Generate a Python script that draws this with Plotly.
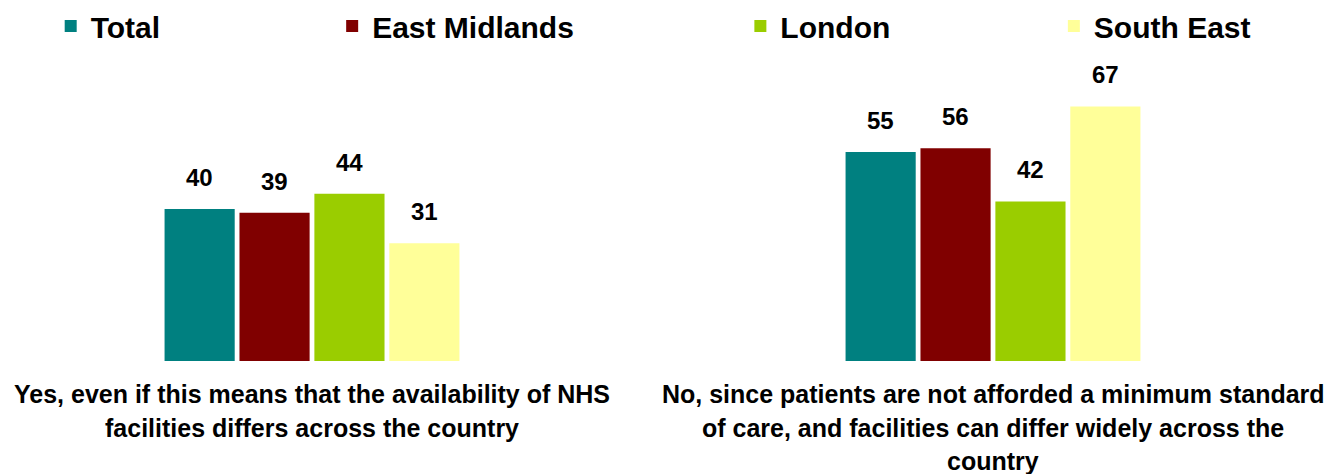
import plotly.graph_objects as go

series_names = ["Total", "East Midlands", "London", "South East"]
colors = ["#008080", "#800000", "#9ACD00", "#FFFF99"]
cat_lines = [
    ["Yes, even if this means that the availability of NHS",
     "facilities differs across the country"],
    ["No, since patients are not afforded a minimum standard",
     "of care, and facilities can differ widely across the",
     "country"],
]
values = [
    [40, 55],  # Total
    [39, 56],  # East Midlands
    [44, 42],  # London
    [31, 67],  # South East
]

cats = [0, 1]
pitch = 0.110
bw = 0.103
legend_x = [0.038, 0.249, 0.555, 0.790]

FONT = "Liberation Sans, Arial, sans-serif"
fig = go.Figure()
annotations = []
for i, (name, col, vals) in enumerate(zip(series_names, colors, values)):
    off = (i - 1.5) * pitch
    xs = [c + off for c in cats]
    lg = "legend" if i == 0 else f"legend{i+1}"
    fig.add_trace(go.Bar(
        x=xs, y=vals, width=bw, name=f"<b>{name}</b>", marker_color=col,
        marker_line_width=0, legend=lg, hoverinfo="skip",
    ))
    for x, v in zip(xs, vals):
        annotations.append(dict(
            x=x, y=v, xref="x", yref="y", text=f"<b>{v}</b>",
            showarrow=False, yanchor="bottom", yshift=16,
            font=dict(family=FONT, size=24, color="black"),
        ))

# category labels
plot_top = 76
plot_h = 285
line_y0 = 394
line_gap = 33.5
for c, lines in zip(cats, cat_lines):
    for j, ln in enumerate(lines):
        ypix = line_y0 + j * line_gap
        annotations.append(dict(
            x=c, xref="x", y=1 - (ypix - plot_top) / plot_h, yref="paper",
            text=f"<b>{ln}</b>", showarrow=False, yanchor="middle",
            font=dict(family=FONT, size=25, color="black"),
        ))

layout_legends = {}
for i, lx in enumerate(legend_x):
    key = "legend" if i == 0 else f"legend{i+1}"
    layout_legends[key] = dict(
        x=lx, y=1 + (plot_top - 26) / plot_h, xanchor="left", yanchor="middle",
        orientation="h", bgcolor="rgba(0,0,0,0)",
        font=dict(family=FONT, size=30, color="black"),
        itemwidth=30,
    )

fig.update_layout(
    width=1334, height=474,
    margin=dict(l=0, r=0, t=plot_top, b=474 - plot_top - plot_h),
    paper_bgcolor="white", plot_bgcolor="white",
    barmode="overlay",
    showlegend=True,
    annotations=annotations,
    xaxis=dict(range=[-312 / 681, (1334 - 312) / 681], showticklabels=False,
               showgrid=False, zeroline=False, showline=False, fixedrange=True),
    yaxis=dict(range=[0, 75], visible=False, showgrid=False, zeroline=False),
    **layout_legends,
)
fig.write_html("out.html", config={"displayModeBar": False},
               post_script="document.body.style.margin='0';document.body.style.overflow='hidden';")
